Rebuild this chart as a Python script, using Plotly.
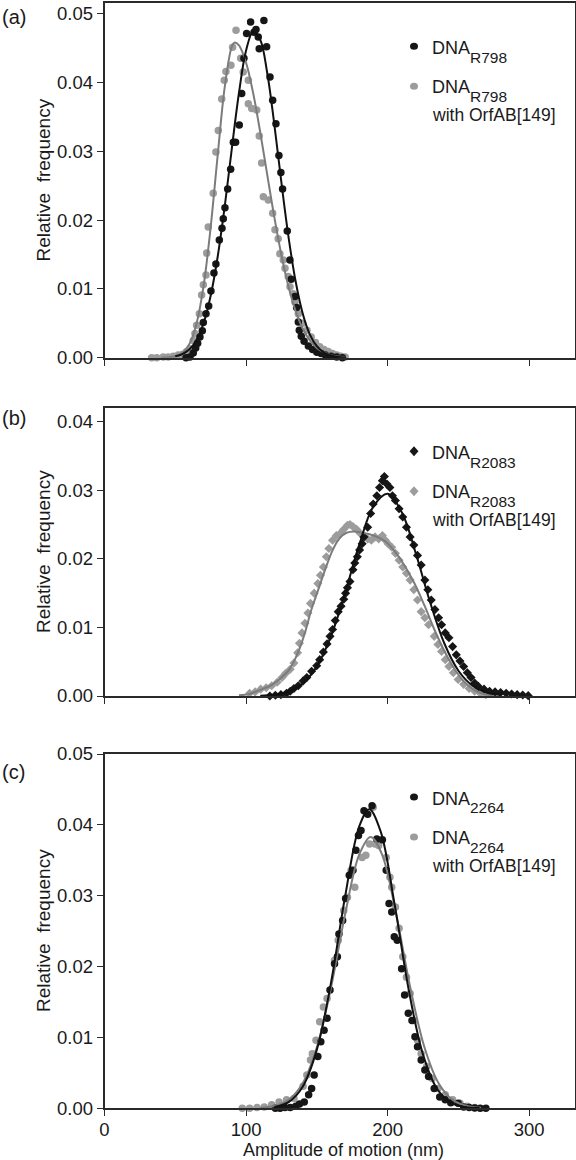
import plotly.graph_objects as go

# ---------------- data ----------------
# Panel (a)
A_BLACK_X = [57.6, 60.4, 62.7, 64.4, 65.8, 67.4, 69.1, 69.8, 71.7, 73.6, 75.2, 77.3, 78.7, 81.1, 83.0,
             83.9, 85.1, 87.0, 89.1, 91.0, 92.6, 95.2, 96.9, 98.5, 100.4, 103.2, 105.6, 107.0, 108.6, 109.3,
             112.6, 114.5, 116.9, 118.8, 121.1, 123.2, 124.6, 125.8, 129.1, 131.0, 131.9, 134.5, 135.7, 136.9,
             137.6, 139, 141, 144, 147, 150, 153, 156, 160, 164, 168]
A_BLACK_Y = [0, 0.0001, 0.0007, 0.0014, 0.0021, 0.0030, 0.0039, 0.0051, 0.0064, 0.0075, 0.0097, 0.0123, 0.0136,
             0.0171, 0.0188, 0.0202, 0.0218, 0.0245, 0.0274, 0.0313, 0.0313, 0.0338, 0.0384, 0.0435, 0.0471,
             0.0488, 0.0473, 0.0477, 0.0466, 0.0449, 0.0490, 0.0452, 0.0408, 0.0374, 0.0340, 0.0294, 0.0269,
             0.0245, 0.0184, 0.0142, 0.0114, 0.0089, 0.0073, 0.0052, 0.0040, 0.0031, 0.0024, 0.0017, 0.0012,
             0.0008, 0.0006, 0.0004, 0.0002, 0.0001, 0]
A_GRAY_X = [33.3, 36.9, 41.5, 45.0, 48.6, 52.1, 55.2, 58.0, 60.4, 62.7, 63.9, 65.1, 67.0, 68.6, 69.8, 71.7,
            72.2, 73.3, 76.8, 78.7, 80.4, 82.8, 84.6, 85.8, 89.3, 90.5, 92.9, 96.2, 98.0, 101.6, 101.6, 104.0,
            107.5, 109.3, 111.0, 112.2, 115.7, 118.8, 120.4, 122.7, 123.9, 126.3, 127.5, 129.8, 131.0, 133.3,
            134.5, 136.9, 140, 143, 146, 149, 152, 155, 158, 161, 164, 167, 170]
A_GRAY_Y = [0, 0, 0.0001, 0.0001, 0.0002, 0.0004, 0.0005, 0.0009, 0.0013, 0.0025, 0.0035, 0.0047, 0.0064,
            0.0091, 0.0106, 0.0120, 0.0152, 0.0190, 0.0239, 0.0299, 0.0330, 0.0376, 0.0403, 0.0416, 0.0425,
            0.0451, 0.0476, 0.0435, 0.0415, 0.0403, 0.0369, 0.0362, 0.0360, 0.0322, 0.0283, 0.0234, 0.0229,
            0.0210, 0.0186, 0.0173, 0.0151, 0.0142, 0.0130, 0.0118, 0.0103, 0.0093, 0.0081, 0.0064, 0.0050,
            0.0040, 0.0030, 0.0022, 0.0016, 0.0012, 0.0009, 0.0006, 0.0004, 0.0002, 0.0001]
A_BLACK_FIT_X = [50, 55, 60, 65, 70, 75, 80, 85, 90, 95, 100, 105, 110, 115, 120, 125, 130, 135, 140, 145,
                 150, 155, 160, 165, 170]
A_BLACK_FIT_Y = [0.00021, 0.00053, 0.00122, 0.00259, 0.00505, 0.0090, 0.01474, 0.0221, 0.0305, 0.0385,
                 0.04463, 0.0474, 0.0462, 0.0413, 0.03384, 0.0254, 0.01753, 0.0111, 0.00643, 0.0034, 0.00167,
                 0.00075, 0.00031, 0.00011, 0.00003]
A_GRAY_FIT_X = [40, 45, 50, 55, 60, 65, 70, 75, 80, 85, 90, 92, 95, 100, 105, 110, 115, 120, 125, 130, 135,
                140, 145, 150, 155, 160, 165, 170]
A_GRAY_FIT_Y = [0.00001, 0.00005, 0.00021, 0.0007, 0.00201, 0.00495, 0.01046, 0.01896, 0.02951, 0.03943,
                0.04524, 0.0458, 0.04537, 0.04287, 0.03846, 0.03277, 0.02652, 0.02038, 0.01487, 0.01031,
                0.00678, 0.00424, 0.00251, 0.00142, 0.00076, 0.00038, 0.00019, 0.00009]

# Panel (b)
B_BLACK_X = [116.8, 120.7, 124.6, 128.6, 131.2, 133.8, 136.9, 140.3, 142.9, 146.3, 149.9, 152.0, 154.6, 157.2,
             159.3, 161.1, 163.0, 165.1, 167.1, 169.0, 170.3, 171.6, 173.4, 175.5, 176.8, 178.6, 180.2, 182.0,
             183.3, 185.9, 188.0, 189.8, 192.4, 194.3, 196.3, 197.7, 199.5, 201.6, 203.4, 205.5, 208.1, 210.7,
             213.3, 215.9, 218.5, 221.1, 223.7, 226.3, 228.4, 230.8, 233.4, 236.0, 238.1, 240.7, 243.3, 245.9,
             248.5, 251.1, 253.7, 256.3, 258.9, 261.5, 264.1, 268.1, 272.0, 275.9, 279.8, 283.7, 287.6, 291.5,
             295.4, 299.3]
B_BLACK_Y = [0, 0.0001, 0.0002, 0.0004, 0.0007, 0.0011, 0.0015, 0.0022, 0.0027, 0.0036, 0.0044, 0.0053, 0.0064,
             0.0076, 0.0087, 0.0097, 0.0110, 0.0123, 0.0131, 0.0141, 0.0150, 0.0158, 0.0167, 0.0184, 0.0194,
             0.0203, 0.0213, 0.0222, 0.0232, 0.0246, 0.0266, 0.0280, 0.0292, 0.0304, 0.0314, 0.0320, 0.0309,
             0.0304, 0.0292, 0.0285, 0.0273, 0.0261, 0.0246, 0.0232, 0.0220, 0.0205, 0.0191, 0.0169, 0.0155,
             0.0140, 0.0126, 0.0114, 0.0104, 0.0092, 0.0085, 0.0072, 0.0060, 0.0051, 0.0043, 0.0034, 0.0027,
             0.0019, 0.0014, 0.0010, 0.0007, 0.0006, 0.0005, 0.0004, 0.0003, 0.0002, 0.00015, 0.00005]
B_GRAY_X = [102.5, 106.4, 110.3, 114.2, 118.1, 122.0, 125.4, 128.0, 131.2, 133.8, 136.4, 137.7, 139.5, 141.6,
            143.7, 145.5, 148.1, 150.7, 152.5, 154.6, 156.7, 158.5, 161.1, 163.8, 166.4, 169.0, 171.6, 173.4,
            175.5, 178.1, 180.7, 183.3, 185.9, 188.5, 191.1, 193.7, 196.3, 198.4, 200.3, 202.9, 205.5, 208.1,
            210.7, 213.3, 215.9, 218.5, 221.1, 223.7, 226.3, 228.9, 232.9, 235.5, 238.1, 240.7, 243.3, 246.4,
            249.8, 253.7, 257.6, 261.5, 265.4, 269.4]
B_GRAY_Y = [0.0004, 0.0006, 0.0010, 0.0012, 0.0015, 0.0020, 0.0027, 0.0033, 0.0039, 0.0048, 0.0063, 0.0077,
            0.0092, 0.0106, 0.0121, 0.0135, 0.0150, 0.0164, 0.0176, 0.0188, 0.0203, 0.0215, 0.0227, 0.0234,
            0.0237, 0.0243, 0.0249, 0.0250, 0.0247, 0.0243, 0.0237, 0.0232, 0.0229, 0.0227, 0.0232, 0.0229,
            0.0234, 0.0227, 0.0222, 0.0217, 0.0208, 0.0198, 0.0188, 0.0179, 0.0169, 0.0155, 0.0140, 0.0123,
            0.0114, 0.0104, 0.0087, 0.0075, 0.0065, 0.0053, 0.0043, 0.0034, 0.0024, 0.0017, 0.0011, 0.0007,
            0.0004, 0.0002]
B_BLACK_FIT_X = [110, 120, 130, 140, 150, 160, 170, 180, 190, 200, 210, 220, 230, 240, 250, 260, 270, 280]
B_BLACK_FIT_Y = [0.00005, 0.0002, 0.00065, 0.00182, 0.00432, 0.00874, 0.01505, 0.0221, 0.02765, 0.02948,
                 0.02678, 0.02073, 0.01368, 0.00769, 0.00368, 0.0015, 0.00052, 0.00015]
B_GRAY_FIT_X = [95, 102.5, 110, 118, 125, 131, 137, 142, 146, 151, 156, 161, 166, 171, 176, 182, 190, 198,
                205, 212, 219, 226, 233, 240, 247, 254, 261, 268, 275]
B_GRAY_FIT_Y = [0.0001, 0.0003, 0.0009, 0.0016, 0.0027, 0.0040, 0.0065, 0.0095, 0.0125, 0.0155, 0.0185,
                0.0212, 0.0230, 0.0238, 0.0240, 0.0238, 0.0234, 0.0226, 0.0211, 0.0190, 0.0164, 0.0132,
                0.0097, 0.0066, 0.0040, 0.0021, 0.0009, 0.0003, 0.0001]

# Panel (c)
C_BLACK_X = [120.7, 124.0, 127.5, 131.2, 135.1, 137.7, 141.1, 144.2, 146.3, 148.1, 150.7, 152.8, 155.1, 157.2,
             159.3, 162.5, 164.5, 165.6, 168.2, 170.3, 172.9, 175.5, 177.6, 179.4, 181.2, 183.3, 185.9, 189.0,
             192.4, 196.3, 199.0, 201.0, 202.9, 204.7, 206.8, 209.9, 212.0, 214.6, 217.2, 219.3, 221.1, 223.7,
             226.3, 228.9, 232.9, 236.8, 240.7, 244.6, 249.8, 253.7, 257.6, 261.5, 265.4, 269.4]
C_BLACK_Y = [0, 0, 0.0001, 0.0001, 0.0003, 0.0006, 0.0009, 0.0019, 0.0028, 0.0047, 0.0073, 0.0094, 0.0110,
             0.0127, 0.0167, 0.0204, 0.0214, 0.0246, 0.0265, 0.0296, 0.0329, 0.0336, 0.0364, 0.0385, 0.0392,
             0.0420, 0.0415, 0.0427, 0.0380, 0.0379, 0.0336, 0.0289, 0.0277, 0.0242, 0.0237, 0.0197, 0.0160,
             0.0134, 0.0124, 0.0101, 0.0087, 0.0068, 0.0054, 0.0045, 0.0028, 0.0016, 0.0012, 0.0008, 0.0007,
             0.0002, 0.0001, 0.00005, 0, 0]
C_GRAY_X = [97.3, 102.5, 107.7, 112.9, 118.1, 123.3, 128.6, 133.8, 140.3, 142.9, 145.5, 146.8, 149.4, 152.0,
            154.6, 157.2, 162.5, 165.1, 169.0, 171.6, 174.2, 176.8, 182.0, 184.6, 187.2, 189.8, 191.1, 193.7,
            199.0, 201.6, 202.9, 205.5, 208.1, 210.7, 213.3, 215.9, 218.5, 221.1, 223.7, 227.6, 231.5, 235.5,
            240.7, 245.9, 251.1, 256.3, 261.5]
C_GRAY_Y = [0, 0, 0.0001, 0.0002, 0.0005, 0.0009, 0.0012, 0.0014, 0.0031, 0.0047, 0.0068, 0.0077, 0.0096,
            0.0122, 0.0143, 0.0155, 0.0209, 0.0237, 0.0279, 0.0298, 0.0336, 0.0312, 0.0354, 0.0357, 0.0373,
            0.0425, 0.0373, 0.0371, 0.0354, 0.0326, 0.0312, 0.0284, 0.0254, 0.0214, 0.0185, 0.0162, 0.0124,
            0.0096, 0.0077, 0.0059, 0.0042, 0.0028, 0.0019, 0.0012, 0.0007, 0.0003, 0.0001]
C_BLACK_FIT_X = [120, 130, 140, 150, 160, 170, 180, 187, 195, 205, 215, 225, 235, 245, 255, 265]
C_BLACK_FIT_Y = [0.0002, 0.00088, 0.00305, 0.00828, 0.01773, 0.02992, 0.03981, 0.0422, 0.03911, 0.0287,
                 0.01661, 0.00757, 0.00272, 0.00077, 0.00017, 0.00003]
C_GRAY_FIT_X = [110, 120, 130, 140, 150, 160, 170, 180, 188, 196, 206, 216, 226, 236, 246, 256, 266]
C_GRAY_FIT_Y = [0.00007, 0.00032, 0.00119, 0.00355, 0.00862, 0.01704, 0.02741, 0.03585, 0.0383, 0.03585,
                0.02741, 0.01704, 0.00862, 0.00355, 0.00119, 0.00032, 0.00007]

X_TICKS = [0, 100, 200, 300]
X_TICK_LABELS = ["0", "100", "200", "300"]

# ---------------- styling ----------------
W, H = 576, 1160
FONT = "Liberation Sans, Arial, Helvetica, sans-serif"
BLACK_M = "#161616"
GRAY_M = "#9c9c9c"
BLACK_L = "#111111"
GRAY_L = "#7c7c7c"
AXC = "#2a2a2a"

def px(x):
    return min(max(x / W, 0), 1)

def py(y):
    return min(max(1 - y / H, 0), 1)

fig = go.Figure()

panels = [
    ("x", "y", A_GRAY_X, A_GRAY_Y, A_BLACK_X, A_BLACK_Y, A_GRAY_FIT_X, A_GRAY_FIT_Y, A_BLACK_FIT_X, A_BLACK_FIT_Y, "circle", 7.5),
    ("x2", "y2", B_GRAY_X, B_GRAY_Y, B_BLACK_X, B_BLACK_Y, B_GRAY_FIT_X, B_GRAY_FIT_Y, B_BLACK_FIT_X, B_BLACK_FIT_Y, "diamond", 7),
    ("x3", "y3", C_GRAY_X, C_GRAY_Y, C_BLACK_X, C_BLACK_Y, C_GRAY_FIT_X, C_GRAY_FIT_Y, C_BLACK_FIT_X, C_BLACK_FIT_Y, "circle", 7.5),
]

for xa, ya, gx, gy, bx, by, gfx, gfy, bfx, bfy, sym, sz in panels:
    fig.add_trace(go.Scatter(x=gx, y=gy, mode="markers", xaxis=xa, yaxis=ya, cliponaxis=False,
                             marker=dict(symbol=sym, size=sz, color=GRAY_M, line=dict(width=0)), showlegend=False))
    fig.add_trace(go.Scatter(x=bx, y=by, mode="markers", xaxis=xa, yaxis=ya, cliponaxis=False,
                             marker=dict(symbol=sym, size=sz, color=BLACK_M, line=dict(width=0)), showlegend=False))
    fig.add_trace(go.Scatter(x=gfx, y=gfy, mode="lines", xaxis=xa, yaxis=ya, line=dict(color=GRAY_L, width=2, shape="spline"),
                             showlegend=False))
    fig.add_trace(go.Scatter(x=bfx, y=bfy, mode="lines", xaxis=xa, yaxis=ya, line=dict(color=BLACK_L, width=2, shape="spline"),
                             showlegend=False))

XDOM = [px(104.5), px(574.5)]
axis_common = dict(showline=True, mirror=True, linecolor=AXC, linewidth=1.6, ticks="outside", ticklen=6,
                   tickwidth=1.4, tickcolor=AXC, showgrid=False, zeroline=False, automargin=False,
                   ticklabeloverflow="allow",
                   tickfont=dict(family=FONT, size=18.5, color="#1a1a1a"))

layout = dict(
    template="none",
    width=W, height=H, margin=dict(l=0, r=0, t=0, b=0, pad=0), autosize=False,
    paper_bgcolor="white", plot_bgcolor="white",
    font=dict(family=FONT, color="#1a1a1a"),
    xaxis=dict(domain=XDOM, anchor="y", range=[0, 332], tickvals=X_TICKS, showticklabels=False, **axis_common),
    xaxis2=dict(domain=XDOM, anchor="y2", range=[0, 332], tickvals=X_TICKS, showticklabels=False, **axis_common),
    xaxis3=dict(domain=XDOM, anchor="y3", range=[0, 332], tickvals=X_TICKS, ticktext=X_TICK_LABELS,
                ticklabelstandoff=-2, **axis_common),
    yaxis=dict(domain=[py(357.7), py(3.3)], anchor="x", range=[0, 0.0515], tickvals=[0, 0.01, 0.02, 0.03, 0.04, 0.05],
               tickformat=".2f", **axis_common),
    yaxis2=dict(domain=[py(696), py(408.3)], anchor="x2", range=[0, 0.04195], tickvals=[0, 0.01, 0.02, 0.03, 0.04],
                tickformat=".2f", **axis_common),
    yaxis3=dict(domain=[py(1108.3), py(754)], anchor="x3", range=[0, 0.05], tickvals=[0, 0.01, 0.02, 0.03, 0.04, 0.05],
                tickformat=".2f", **axis_common),
)

ann = []
shapes = []

def text(x, y, t, size, anchor="left", angle=0):
    ann.append(dict(x=px(x), y=py(y), xref="paper", yref="paper", text=t, showarrow=False, xanchor=anchor,
                    yanchor="middle", textangle=angle, borderpad=0,
                    font=dict(family=FONT, size=size, color="#1a1a1a")))

# panel labels
text(1, 17, "(a)", 20)
text(1, 418, "(b)", 20)
text(1, 772, "(c)", 20)

# y titles
for cy in (180.5, 552, 931):
    text(43, cy, "Relative\u00a0 frequency", 19, anchor="center", angle=-90)

# x title
text(343, 1149.5, "Amplitude of motion (nm)", 18, anchor="center")

def circle(x, y, color):
    shapes.append(dict(type="circle", xref="paper", yref="paper", xsizemode="pixel", ysizemode="pixel",
                       xanchor=px(x), yanchor=py(y), x0=-4, x1=4, y0=-3.5, y1=3.5, fillcolor=color,
                       line=dict(width=0)))

def diamond(x, y, color):
    shapes.append(dict(type="path", xref="paper", yref="paper", xsizemode="pixel", ysizemode="pixel",
                       xanchor=px(x), yanchor=py(y), path="M0,5 L4.5,0 L0,-5 L-4.5,0 Z", fillcolor=color,
                       line=dict(width=0)))

# legends
legends = [
    (circle, 3.3, "R798"),
    (diamond, 408.3, "R2083"),
    (circle, 754, "2264"),
]
for mk, top, sub in legends:
    mk(414, top + 43, BLACK_M)
    text(431, top + 45, "DNA", 18)
    text(469, top + 54, sub, 15.5)
    mk(414, top + 83, GRAY_M)
    text(431, top + 84, "DNA", 18)
    text(469, top + 93, sub, 15.5)
    text(431, top + 112, "with OrfAB[149]", 17.5)

layout["annotations"] = ann
layout["shapes"] = shapes
fig.update_layout(**layout)
# remove the default page margin so the figure sits at the window corner
fig.write_html("out.html", config={"displayModeBar": False},
               post_script="document.body.style.margin='0px';")
